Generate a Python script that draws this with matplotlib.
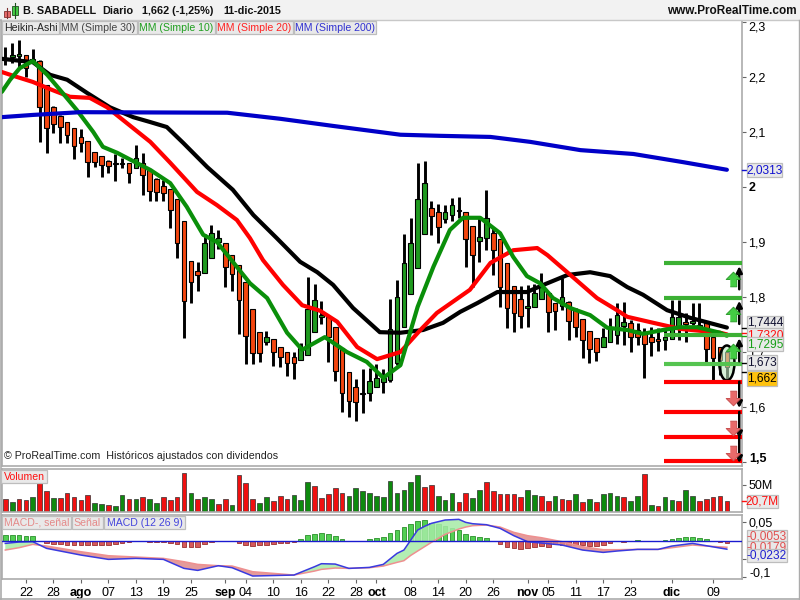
import matplotlib
matplotlib.use("Agg")
import matplotlib.pyplot as plt
import numpy as np
from matplotlib.patches import Rectangle, Ellipse

plt.rcParams['font.family'] = ['Liberation Sans', 'DejaVu Sans']

# Heikin-Ashi candles, one row per session: high, low, body top, body bottom
candle_high = [2.255, 2.262, 2.267, 2.240, 2.251, 2.231, 2.185, 2.147, 2.131, 2.118,
               2.107, 2.105, 2.084, 2.064, 2.056, 2.049, 2.060, 2.053, 2.044, 2.076,
               2.062, 2.031, 2.016, 2.013, 1.996, 1.978, 1.938, 1.865, 1.864, 1.915,
               1.931, 1.922, 1.898, 1.876, 1.858, 1.827, 1.778, 1.736, 1.738, 1.724,
               1.709, 1.700, 1.700, 1.716, 1.836, 1.824, 1.793, 1.764, 1.745, 1.707,
               1.664, 1.651, 1.669, 1.671, 1.678, 1.669, 1.796, 1.831, 1.915, 1.944,
               2.044, 2.047, 1.975, 1.969, 1.967, 1.980, 1.982, 1.955, 1.929, 1.945,
               1.995, 1.925, 1.905, 1.862, 1.820, 1.820, 1.822, 1.824, 1.844, 1.807,
               1.789, 1.835, 1.793, 1.780, 1.760, 1.738, 1.725, 1.744, 1.762, 1.789,
               1.791, 1.758, 1.753, 1.744, 1.745, 1.744, 1.744, 1.795, 1.795, 1.771,
               1.789, 1.789, 1.756, 1.727, 1.709, 1.700]
candle_low = [2.222, 2.225, 2.216, 2.200, 2.225, 2.082, 2.062, 2.098, 2.080, 2.080,
              2.051, 2.064, 2.018, 2.036, 2.018, 2.025, 2.011, 2.035, 2.007, 2.035,
              1.985, 1.975, 1.975, 1.975, 1.925, 1.871, 1.725, 1.789, 1.811, 1.844,
              1.871, 1.887, 1.818, 1.811, 1.733, 1.678, 1.678, 1.682, 1.713, 1.675,
              1.673, 1.656, 1.651, 1.685, 1.695, 1.736, 1.751, 1.682, 1.647, 1.591,
              1.582, 1.575, 1.589, 1.611, 1.636, 1.625, 1.645, 1.676, 1.745, 1.805,
              1.853, 1.915, 1.913, 1.898, 1.935, 1.938, 1.944, 1.855, 1.818, 1.864,
              1.885, 1.840, 1.782, 1.744, 1.736, 1.744, 1.745, 1.782, 1.796, 1.736,
              1.740, 1.776, 1.722, 1.727, 1.689, 1.680, 1.684, 1.709, 1.718, 1.715,
              1.713, 1.700, 1.713, 1.653, 1.693, 1.702, 1.704, 1.724, 1.722, 1.718,
              1.749, 1.740, 1.682, 1.649, 1.658, 1.644]
candle_top = [2.235, 2.240, 2.242, 2.240, 2.233, 2.229, 2.185, 2.145, 2.129, 2.118,
              2.107, 2.091, 2.084, 2.064, 2.056, 2.047, 2.044, 2.044, 2.044, 2.053,
              2.044, 2.031, 2.015, 2.002, 1.996, 1.978, 1.938, 1.865, 1.847, 1.898,
              1.916, 1.907, 1.898, 1.876, 1.858, 1.827, 1.778, 1.736, 1.727, 1.724,
              1.709, 1.700, 1.691, 1.707, 1.778, 1.795, 1.767, 1.764, 1.745, 1.707,
              1.664, 1.636, 1.625, 1.647, 1.653, 1.653, 1.742, 1.800, 1.862, 1.898,
              1.978, 2.007, 1.962, 1.955, 1.955, 1.967, 1.958, 1.955, 1.929, 1.909,
              1.944, 1.916, 1.905, 1.862, 1.820, 1.796, 1.784, 1.807, 1.818, 1.807,
              1.789, 1.800, 1.791, 1.776, 1.760, 1.738, 1.725, 1.727, 1.745, 1.767,
              1.755, 1.753, 1.740, 1.736, 1.727, 1.724, 1.727, 1.764, 1.764, 1.755,
              1.756, 1.749, 1.756, 1.727, 1.709, 1.700]
candle_bottom = [2.231, 2.236, 2.238, 2.216, 2.227, 2.145, 2.107, 2.115, 2.109, 2.095,
                 2.075, 2.080, 2.045, 2.045, 2.040, 2.038, 2.042, 2.042, 2.025, 2.035,
                 2.022, 1.993, 1.991, 1.989, 1.958, 1.898, 1.793, 1.827, 1.840, 1.844,
                 1.871, 1.900, 1.855, 1.842, 1.795, 1.729, 1.698, 1.698, 1.718, 1.700,
                 1.691, 1.680, 1.680, 1.685, 1.695, 1.736, 1.764, 1.727, 1.665, 1.625,
                 1.611, 1.609, 1.624, 1.625, 1.636, 1.645, 1.649, 1.680, 1.745, 1.805,
                 1.853, 1.915, 1.947, 1.927, 1.942, 1.949, 1.956, 1.905, 1.876, 1.902,
                 1.907, 1.885, 1.818, 1.780, 1.771, 1.765, 1.780, 1.782, 1.796, 1.773,
                 1.775, 1.784, 1.756, 1.745, 1.722, 1.705, 1.700, 1.709, 1.718, 1.731,
                 1.747, 1.727, 1.727, 1.715, 1.718, 1.720, 1.722, 1.724, 1.745, 1.751,
                 1.753, 1.745, 1.705, 1.689, 1.685, 1.673]
# 1 = green session, 0 = red session
candle_up = [1, 1, 1, 0, 1, 0, 0, 0, 0, 0, 0, 0, 0, 0, 0, 0, 0, 1, 0, 1,
             0, 0, 0, 0, 0, 0, 0, 0, 0, 1, 1, 1, 0, 0, 0, 0, 0, 0, 1, 0,
             0, 0, 0, 1, 1, 1, 1, 0, 0, 0, 0, 0, 1, 1, 1, 1, 1, 1, 1, 1,
             1, 1, 0, 0, 1, 1, 0, 0, 0, 1, 1, 0, 0, 0, 0, 0, 1, 1, 1, 0,
             0, 1, 0, 0, 0, 0, 0, 1, 1, 1, 1, 0, 0, 0, 0, 0, 1, 1, 1, 0,
             1, 1, 0, 0, 0, 0]

# moving averages, sampled along each curve
ma30_x = [-0.5, 4.0, 6.5, 9.0, 11.9, 15.2, 18.6, 21.1, 23.5, 25.9, 29.4, 33.1, 36.1, 39.5, 42.9,
          45.4, 47.7, 50.6, 54.5, 57.5, 60.8, 63.7, 66.2, 68.7, 71.6, 75.9, 78.3, 81.8, 85.1,
          88.0, 90.5, 92.8, 96.3, 99.7, 105]
ma30_y = [2.233, 2.227, 2.204, 2.195, 2.171, 2.145, 2.127, 2.118, 2.109, 2.080, 2.036, 1.995, 1.949,
          1.907, 1.864, 1.845, 1.822, 1.780, 1.736, 1.735, 1.740, 1.753, 1.773, 1.789, 1.809, 1.809,
          1.822, 1.840, 1.845, 1.838, 1.818, 1.804, 1.776, 1.762, 1.7444]
ma20_x = [-0.5, 1.7, 4.0, 6.9, 9.4, 12.3, 14.8, 18.6, 21.1, 24.0, 27.9, 30.8, 33.7, 35.6, 37.5, 40.4,
          43.2, 45.8, 48.3, 51.2, 54.1, 57.5, 60.4, 62.8, 67.6, 70.6, 73.9, 77.4, 78.9, 82.6, 86.1,
          89.0, 90.5, 94.3, 98.2, 104.0, 105]
ma20_y = [2.209, 2.200, 2.191, 2.176, 2.164, 2.162, 2.145, 2.107, 2.082, 2.044, 1.991, 1.967, 1.940,
          1.907, 1.867, 1.822, 1.785, 1.775, 1.755, 1.709, 1.687, 1.700, 1.740, 1.771, 1.813, 1.862,
          1.885, 1.889, 1.876, 1.836, 1.798, 1.776, 1.764, 1.753, 1.742, 1.735, 1.7320]
ma10_x = [-0.5, 0.7, 2.1, 4.0, 6.1, 8.0, 10.4, 12.8, 14.2, 16.3, 18.6, 21.1, 24.0, 26.4, 28.8, 30.8,
          33.1, 35.6, 38.1, 41.0, 43.2, 46.5, 49.7, 52.6, 55.0, 57.5, 60.0, 62.3, 64.7, 66.6, 69.1,
          72.0, 73.9, 75.9, 77.8, 79.7, 82.2, 85.1, 87.6, 90.5, 92.8, 95.7, 98.2, 100.7, 104.0, 105]
ma10_y = [2.173, 2.195, 2.216, 2.229, 2.204, 2.176, 2.140, 2.100, 2.073, 2.062, 2.047, 2.031, 2.007,
          1.964, 1.913, 1.900, 1.864, 1.825, 1.798, 1.735, 1.704, 1.727, 1.700, 1.682, 1.653, 1.676,
          1.782, 1.855, 1.922, 1.944, 1.944, 1.916, 1.873, 1.838, 1.825, 1.798, 1.780, 1.767, 1.744,
          1.740, 1.733, 1.740, 1.745, 1.745, 1.735, 1.7295]
ma200_x = [-0.5, 4.0, 10.9, 32.3, 40.0, 47.7, 57.5, 63.3, 70.6, 76.4, 83.7, 91.4, 98.7, 105]
ma200_y = [2.127, 2.131, 2.136, 2.135, 2.124, 2.111, 2.095, 2.093, 2.091, 2.082, 2.067, 2.060, 2.045, 2.0313]

# support / resistance levels at the right edge
up_levels = [1.862, 1.799, 1.731, 1.678]
down_levels = [1.646, 1.591, 1.546, 1.501]

# volume in millions
volume = [24, 18, 24, 22, 27, 53, 39, 25, 26, 35, 27, 22, 31, 16, 14, 13, 11, 31, 24, 24,
          27, 24, 16, 27, 22, 27, 73, 36, 24, 27, 24, 14, 24, 13, 69, 53, 24, 16, 27, 20,
          30, 24, 31, 22, 55, 48, 25, 33, 44, 35, 30, 44, 39, 36, 30, 27, 57, 35, 41, 55,
          69, 46, 50, 30, 22, 35, 18, 36, 25, 41, 55, 39, 33, 33, 33, 27, 41, 31, 30, 20,
          30, 24, 22, 33, 18, 24, 18, 33, 35, 30, 27, 20, 30, 70, 13, 11, 27, 22, 20, 41,
          30, 20, 24, 27, 30, 20.7]
volume_up = [0, 1, 0, 0, 1, 0, 0, 1, 0, 0, 0, 0, 0, 1, 1, 0, 1, 1, 0, 1,
             0, 1, 1, 0, 0, 0, 0, 1, 0, 1, 1, 0, 0, 1, 0, 0, 0, 1, 1, 0,
             0, 0, 1, 1, 1, 0, 0, 0, 0, 0, 1, 1, 1, 1, 1, 1, 1, 1, 1, 1,
             1, 0, 0, 1, 1, 1, 0, 0, 1, 1, 0, 0, 0, 0, 0, 0, 1, 1, 0, 0,
             1, 0, 0, 1, 0, 1, 0, 1, 1, 1, 0, 1, 1, 0, 1, 0, 1, 1, 0, 1,
             1, 0, 0, 0, 0, 0]

# MACD histogram
macd_hist = [.0155, .0155, .0155, .0128, .0128, 0, -.0055, -.0082, -.0100, -.0109,
             -.0109, -.0109, -.0109, -.0109, -.0109, -.0109, -.0082, -.0055, -.0027, 0,
             -.0009, -.0027, -.0027, -.0027, -.0055, -.0082, -.0164, -.0164, -.0164, -.0082,
             -.0046, 0, 0, 0, -.0055, -.0109, -.0137, -.0128, -.0109, -.0082,
             -.0073, -.0055, -.0027, .0046, .0146, .0173, .0209, .0173, .0128, .0036,
             0, 0, 0, .0046, .0064, .0100, .0200, .0291, .0364, .0446,
             .0537, .0565, .0474, .0446, .0410, .0337, .0291, .0173, .0118, .0091,
             .0064, 0, -.0082, -.0164, -.0191, -.0219, -.0200, -.0164, -.0137, -.0164,
             -.0100, -.0118, -.0118, -.0118, -.0128, -.0146, -.0146, -.0118, -.0055, 0,
             -.0027, 0, .0018, 0, 0, 0, .0027, .0055, .0064, .0091,
             .0100, .0064, .0036, 0, -.0027, -.0055]
macd_x = [0, 2, 4, 6, 11, 15, 19, 23, 26, 28, 31, 33, 36, 42, 45, 46, 48, 50, 53, 55, 57, 58, 59, 60,
          61, 62, 64, 66, 67, 68, 70, 72, 74, 76, 78, 81, 84, 87, 89, 92, 95, 97, 100, 102, 105]
macd_line = [-.0073, -.0036, -.0027, -.0209, -.0392, -.0510, -.0483, -.0510, -.0756, -.0811, -.0683,
             -.0738, -.0965, -.0938, -.0710, -.0628, -.0638, -.0756, -.0729, -.0647, -.0346, -.0255,
             .0018, .0291, .0392, .0474, .0565, .0583, .0501, .0464, .0437, .0337, .0137, -.0027,
             -.0064, -.0118, -.0255, -.0319, -.0282, -.0237, -.0237, -.0146, -.0073, -.0137, -.0232]
macd_signal = [-.0255, -.0191, -.0100, -.0146, -.0301, -.0410, -.0446, -.0483, -.0574, -.0647, -.0683,
               -.0692, -.0847, -.0938, -.0829, -.0783, -.0747, -.0756, -.0738, -.0692, -.0592, -.0546,
               -.0401, -.0282, -.0164, -.0046, .0173, .0319, .0373, .0410, .0428, .0373, .0228, .0137,
               .0082, -.0027, -.0164, -.0246, -.0246, -.0237, -.0237, -.0191, -.0118, -.0146, -.0179]

price_ticks = [1.5, 1.6, 1.7, 1.8, 1.9, 2.0, 2.1, 2.2, 2.3]
price_labels = ['', '1,6', '1,7', '1,8', '1,9', '2', '2,1', '2,2', '2,3']
date_pos = [3, 7, 11, 15, 19, 23, 27, 32, 35, 39, 43, 47, 51, 54, 59, 63, 67, 71, 76, 79, 83, 87, 91, 97, 103]
date_labels = ['22', '28', 'ago', '07', '13', '19', '25', 'sep', '04', '10', '16', '22', '28', 'oct',
               '08', '14', '20', '26', 'nov', '05', '11', '17', '23', 'dic', '09']
month_labels = ['ago', 'sep', 'oct', 'nov', 'dic']

W, H = 800, 600
FRAME = '#ababab'
BOX = '#e9e9e9'
XLIM = (-0.48, 107.2)


def panel(y0, y1, ylim):
    # axes placed by pixel rows of the window
    ax = fig.add_axes([2 / W, 1 - y1 / H, 740 / W, (y1 - y0) / H])
    ax.set_xlim(XLIM)
    ax.set_ylim(ylim)
    ax.yaxis.tick_right()
    ax.set_xticks([])
    for s in ax.spines.values():
        s.set_color(FRAME)
        s.set_linewidth(1.2)
    ax.tick_params(axis='y', length=3, width=0.8, color='#666666', pad=1.5, labelsize=9)
    return ax


fig = plt.figure(figsize=(W / 100, H / 100), dpi=100, facecolor='white')
idx = np.arange(len(candle_high))
top = np.array(candle_top)
bottom = np.array(candle_bottom)

# main price panel
ax = panel(20, 466, (1.4927, 2.3036))
ax.vlines(idx, candle_low, candle_high, color='black', lw=2.1, zorder=2)
body_colors = ['#1f9a1f' if u else '#f4460f' for u in candle_up]
ax.bar(idx, top - bottom, bottom=bottom, width=0.68, color=body_colors,
       edgecolor='black', linewidth=0.8, zorder=3)

ax.plot(ma30_x, ma30_y, color='black', lw=3, zorder=4, solid_joinstyle='round', solid_capstyle='round')
ax.plot(ma20_x, ma20_y, color='#ff0000', lw=3, zorder=5, solid_joinstyle='round', solid_capstyle='round')
ax.plot(ma10_x, ma10_y, color='#0a8f0a', lw=3, zorder=6, solid_joinstyle='round', solid_capstyle='round')
ax.plot(ma200_x, ma200_y, color='#0000c8', lw=3, zorder=7, solid_joinstyle='round', solid_capstyle='round')

ax.add_patch(Ellipse((105, 1.680), 2.2, 0.0636, facecolor='#bfe8bf', alpha=0.6, edgecolor='none', zorder=8))
ax.add_patch(Ellipse((105, 1.680), 2.2, 0.0636, facecolor='none', edgecolor='black', lw=1.8, zorder=9))

lvl_colors = ['#3cb034', '#3cb034', '#3cb034', '#55c450']
ax.hlines(up_levels, 95.9, XLIM[1], colors=lvl_colors, lw=3, zorder=10)
ax.hlines(down_levels, 95.9, XLIM[1], colors='#ff0000', lw=3, zorder=10)

# arrows pointing away from the levels
up_marker = [(-.22, -.5), (.22, -.5), (.22, 0), (.5, 0), (0, .5), (-.5, 0), (-.22, 0)]
down_marker = [(x, -y) for x, y in up_marker]
for lvl in up_levels[:3]:
    ax.annotate('', xy=(106.8, lvl - 0.006), xytext=(106.8, lvl - 0.048), zorder=11,
                arrowprops=dict(arrowstyle='-|>', color='black', lw=1.8, mutation_scale=9, shrinkA=0, shrinkB=0))
    ax.plot(105.9, lvl - 0.03, marker=up_marker, ms=10.5, mfc='#44cc44', mec='#2e9e2e', mew=0.7, zorder=11)
for lvl in down_levels[:3]:
    ax.annotate('', xy=(106.8, lvl - 0.048), xytext=(106.8, lvl), zorder=11,
                arrowprops=dict(arrowstyle='-|>', color='black', lw=1.8, mutation_scale=9, shrinkA=0, shrinkB=0))
    ax.plot(105.9, lvl - 0.03, marker=down_marker, ms=10.5, mfc='#e86a6a', mec='#c85050', mew=0.7, zorder=11)

ax.set_yticks(price_ticks)
ax.set_yticklabels(price_labels)
for lab in ax.get_yticklabels():
    if lab.get_text() == '2':
        lab.set_fontweight('bold')
    if lab.get_text() == '2,3':
        lab.set_verticalalignment('top')
ax.text(0.003, 0.0105, '© ProRealTime.com  Históricos ajustados con dividendos', transform=ax.transAxes,
        fontsize=7.7, color='#222222', va='bottom', zorder=12)

# volume panel
ax_vol = panel(469, 512, (0, 79.6))
vol_colors = ['#0e8a0e' if u else '#f01010' for u in volume_up]
ax_vol.bar(idx, volume, width=0.68, color=vol_colors, edgecolor='#303030', linewidth=0.5)
ax_vol.set_yticks([50])
ax_vol.set_yticklabels(['50M'])

# MACD panel
ax_macd = panel(515, 579, (-0.1046, 0.0702))
hist = np.array(macd_hist)
hist_colors = ['#52cf52' if v > 0 else '#d65a5a' for v in hist]
hist_edges = ['#2b8f2b' if v > 0 else '#9c3030' for v in hist]
ax_macd.bar(idx, hist, width=0.68, color=hist_colors, edgecolor=hist_edges, linewidth=0.6, zorder=2)
m = np.array(macd_line)
s = np.array(macd_signal)
ax_macd.fill_between(macd_x, m, s, where=m >= s, interpolate=True, color='#a6eca6', alpha=0.85, lw=0, zorder=3)
ax_macd.fill_between(macd_x, m, s, where=m <= s, interpolate=True, color='#e08a8a', alpha=0.85, lw=0, zorder=3)
ax_macd.plot(macd_x, macd_signal, color='#ee9090', lw=1.1, zorder=4)
ax_macd.plot(macd_x, macd_line, color='#3a3ae0', lw=1.1, zorder=5)
ax_macd.axhline(0, color='#1a1ad0', lw=1.0, zorder=6)
ax_macd.set_yticks([0.05, -0.05, -0.1])
ax_macd.set_yticklabels(['0,05', '', ''])
ax_macd.set_xticks(date_pos)
ax_macd.set_xticklabels(date_labels, fontsize=9)
ax_macd.tick_params(axis='x', length=3, width=0.8, color='#666666', pad=2.5)
for lab in ax_macd.get_xticklabels():
    if lab.get_text() in month_labels:
        lab.set_fontweight('bold')

# window chrome, legends and value boxes, in pixel coordinates
over = fig.add_axes([0, 0, 1, 1], zorder=20)
over.set_xlim(0, W)
over.set_ylim(H, 0)
over.axis('off')
over.add_patch(Rectangle((0, 0), W, 20, facecolor='#f2f2f2', edgecolor='none'))
over.plot([0, W], [20, 20], color='#c8c8c8', lw=1)
over.plot([0.5, 0.5], [20, 599], color=FRAME, lw=1.2)
over.plot([0, W], [598.5, 598.5], color=FRAME, lw=1.2)
over.plot([798.5, 798.5], [20, 599], color=FRAME, lw=1.0)

# small candlestick icon in the title bar
over.plot([7, 7], [8, 18], color='#803030', lw=0.8)
over.add_patch(Rectangle((4, 11), 5.5, 6, facecolor='#e86a6a', edgecolor='#803030', lw=0.6))
over.plot([14.5, 14.5], [3, 18], color='#205020', lw=0.8)
over.add_patch(Rectangle((11.5, 6), 6, 9, facecolor='#44cc44', edgecolor='#205020', lw=0.6))

over.text(23, 11, 'B. SABADELL', fontsize=7.8, fontweight='bold', va='center', color='#111111')
over.text(102, 11, 'Diario', fontsize=7.8, fontweight='bold', va='center', color='#111111')
over.text(142, 11, '1,662 (-1,25%)', fontsize=7.8, fontweight='bold', va='center', color='#111111')
over.text(223, 11, '11-dic-2015', fontsize=7.8, fontweight='bold', va='center', color='#111111')
over.text(797, 11, 'www.ProRealTime.com', fontsize=8.5, fontweight='bold', va='center', ha='right', color='#111111')

over.text(749, 459, '1,5', fontsize=9, fontweight='bold', va='center', color='black')
over.text(749, 573, '-0,1', fontsize=9, va='center', color='black')

layer = [5]


def box(x0, x1, y0, y1, text, color, face=BOX, size=7.6):
    # later boxes sit over earlier ones and hide their text, as in the platform
    layer[0] += 1
    over.add_patch(Rectangle((x0, y0), x1 - x0, y1 - y0, facecolor=face, edgecolor='#bdbdbd', lw=0.9, zorder=layer[0]))
    layer[0] += 1
    over.text((x0 + x1) / 2, (y0 + y1) / 2 + 0.3, text, color=color, fontsize=size, ha='center', va='center',
              zorder=layer[0], clip_on=True)


box(2, 59, 21, 34, 'Heikin-Ashi', '#222222')
box(60, 137, 21, 34, 'MM (Simple 30)', '#444444')
box(138, 215, 21, 34, 'MM (Simple 10)', '#1f9f1f')
box(216, 293, 21, 34, 'MM (Simple 20)', '#ff2020')
box(294, 376, 21, 34, 'MM (Simple 200)', '#3030d0')

box(1, 47, 470, 483, 'Volumen', '#ff1010')
box(2, 71, 516, 529, 'MACD-, señal', '#e58a8a')
box(72, 103, 516, 529, 'Señal', '#e58a8a')
box(104, 185, 516, 529, 'MACD (12 26 9)', '#4545dd')

# last values on the right scale, the order is the stacking order
box(747, 782, 163, 177, '2,0313', '#1010d0', size=8.6)
over.plot([742, 747], [170, 170], color='#1010d0', lw=1)
box(747, 783, 316, 329, '1,7444', '#101030', size=8.6)
box(747, 783, 328, 342, '1,7320', '#ff1010', size=8.6)
box(747, 783, 337, 351, '1,7295', '#18a018', size=8.6)
for yy, col in [(328, 'black'), (333, '#ff1010'), (336, '#18a018'), (363, 'black'), (372, 'black')]:
    over.plot([742, 746], [yy, yy], color=col, lw=1)
box(747, 777, 355, 370, '1,673', '#101030', size=8.6)
box(747, 777, 371, 386, '1,662', 'black', face='#ffc20e', size=8.6)
box(747, 778, 495, 508, '20,7M', '#ff1010', size=8.6)
over.plot([742, 747], [501, 501], color='#ff1010', lw=1)
box(747, 787, 530, 543, '-0,0053', '#e05050', size=8.6)
box(747, 787, 541, 553, '-0,0179', '#e05050', size=8.6)
box(747, 787, 549, 562, '-0,0232', '#2020d0', size=8.6)

fig.savefig('out.png', dpi=100)
